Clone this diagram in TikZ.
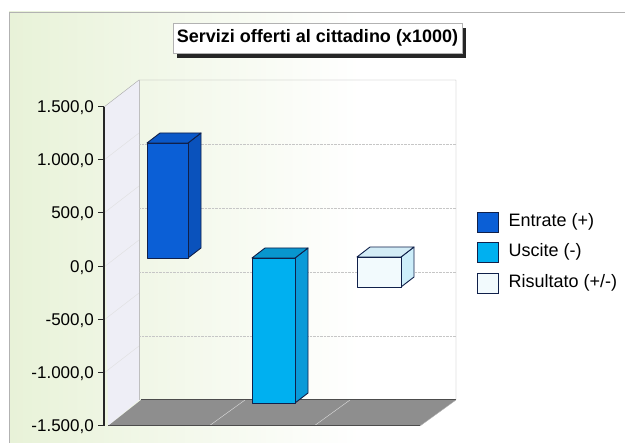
\documentclass[tikz,border=0pt]{standalone}
\usepackage{fontspec}
\setmainfont{Liberation Sans}
\usetikzlibrary{positioning, shadows}
\definecolor{frontent}{HTML}{0B5FD6}
\definecolor{sideent}{HTML}{0A52BC}
\definecolor{topent}{HTML}{0A58C8}
\definecolor{frontusc}{HTML}{00B0F0}
\definecolor{sideusc}{HTML}{0A9AD8}
\definecolor{topusc}{HTML}{0896CE}
\definecolor{frontris}{HTML}{F2FAFD}
\definecolor{sideris}{HTML}{CDEEFA}
\definecolor{topris}{HTML}{D3ECF6}
\definecolor{barline}{HTML}{10204A}
\definecolor{bggreen}{HTML}{E8F2D8}
\definecolor{wallgray}{HTML}{EEEEF6}
\definecolor{floorgray}{HTML}{8E8E8E}

\begin{document}
\begin{tikzpicture}[x=1pt, y=-1pt,
    face/.style={draw=barline, line width=0.9pt, line join=round},
    ticklab/.style={font=\fontsize{17}{17}\selectfont, anchor=east, inner sep=0pt, text depth=0pt},
    swatch/.style={draw=barline, line width=0.9pt, minimum width=21pt, minimum height=20pt, inner sep=0pt},
    legtext/.style={font=\fontsize{18}{18}\selectfont, inner sep=0pt}]
  \useasboundingbox (0,0) rectangle (625,443);
  \shade[left color=bggreen, right color=white] (9,12) rectangle (360,443);
  \draw[gray!60] (625,12) -- (9,12) -- (9,443);

  \node[draw=gray!60, fill=white, font=\bfseries\fontsize{18}{18}\selectfont,
        minimum width=289pt, minimum height=30pt, inner sep=0pt,
        drop shadow={shadow xshift=4pt, shadow yshift=-5pt, fill=black!85, opacity=1}]
    (title) at (317.5,38) {Servizi offerti al cittadino (x1000)};

  \fill[wallgray] (104,107) -- (139,80) -- (139,400) -- (108,426) -- cycle;
  \foreach \y in {160,213,267,320,373}
    \draw[gray!25] (104,\y) -- (139,\y-27);
  \draw[gray!70] (104,107) -- (139,80) -- (456,80) -- (456,400);
  \draw[gray!50] (139,80) -- (139,400);
  \foreach \y in {144,208,272,336}
    \draw[gray!45, densely dotted] (139,\y) -- (456,\y);

  \fill[floorgray] (108,426) -- (420,426) -- (456,400) -- (141,400) -- cycle;
  \draw[gray!25] (209,426) -- (245,400) (314,426) -- (350,400);
  \draw[black!70, line width=1pt] (108,426) -- (420,426) (141,400) -- (456,400);
  \draw[gray!60] (420,426) -- (456,400);

  \draw[line width=1.5pt, black!85] (104,107) -- (104,426);
  \foreach \v/\y in {1.500/107, 1.000/160, 500/213, 0/267, -500/320, -1.000/373, -1.500/426} {
    \draw[line width=1pt, black!85] (98,\y) -- (104,\y);
    \node[ticklab] (lab\y) at (94,\y) {\v,0};
  }

  \foreach \x/\w/\t/\b/\k in {147/41/143/258/ent, 252/43/258/403/usc, 357/44/257/287/ris} {
    \filldraw[face, fill=side\k] (\x+\w,\t) -- (\x+\w+13,\t-10) -- (\x+\w+13,\b-10) -- (\x+\w,\b) -- cycle;
    \filldraw[face, fill=top\k] (\x,\t) -- (\x+13,\t-10) -- (\x+\w+13,\t-10) -- (\x+\w,\t) -- cycle;
    \filldraw[face, fill=front\k] (\x,\t) rectangle (\x+\w,\b);
  }

  \node[swatch, fill=frontent] (entsw) at (487.5,222) {};
  \node[swatch, fill=frontusc] (uscsw) at (487.5,252) {};
  \node[swatch, fill=frontris] (rissw) at (487.5,283) {};
  \node[legtext, right=10pt of entsw] (entlab) {Entrate (+)};
  \node[legtext, right=10pt of uscsw] (usclab) {Uscite (-)};
  \node[legtext, right=10pt of rissw] (rislab) {Risultato (+/-)};
\end{tikzpicture}
\end{document}
